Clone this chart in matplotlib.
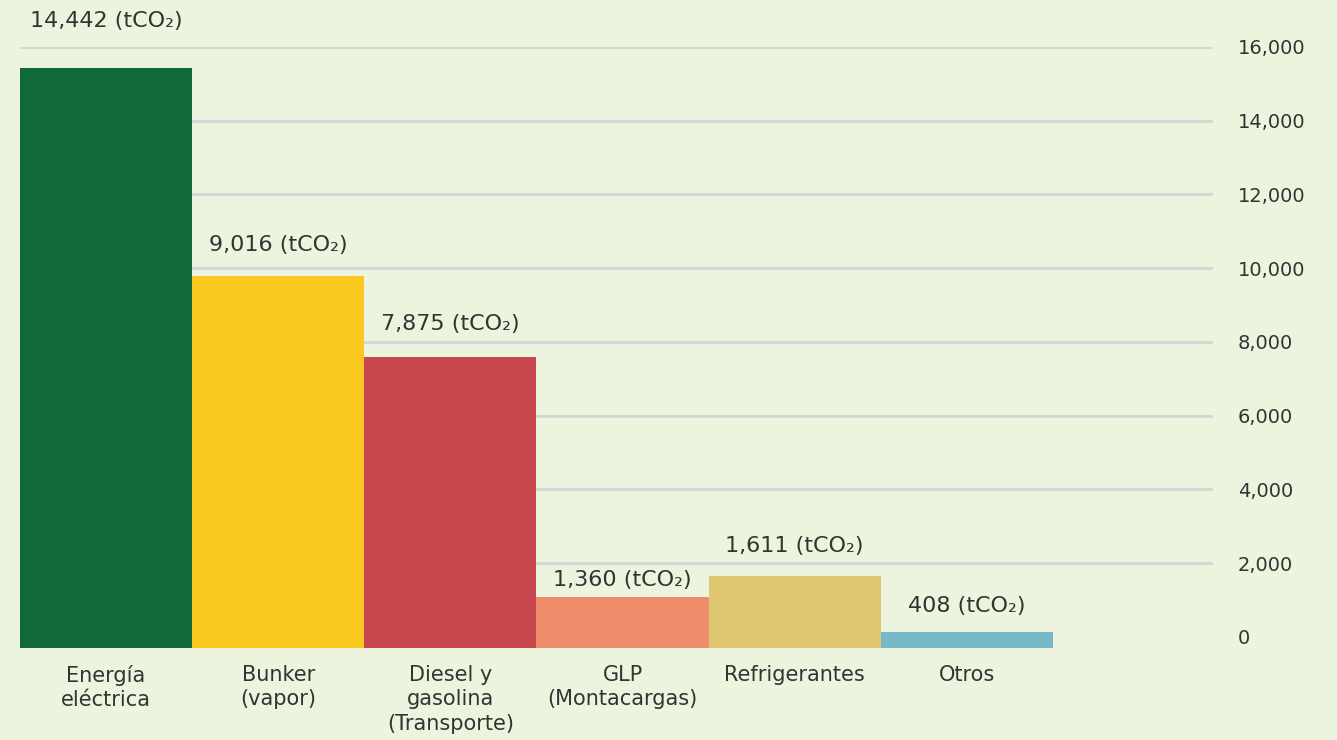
import matplotlib
matplotlib.use("Agg")
import matplotlib.pyplot as plt

categories = ["Energía\neléctrica", "Bunker\n(vapor)", "Diesel y\ngasolina\n(Transporte)",
              "GLP\n(Montacargas)", "Refrigerantes", "Otros"]
emissions = [14442, 9016, 7875, 1360, 1611, 408]          # value shown in labels (tCO2)
bar_tops = [15440, 9790, 7580, 1090, 1660, 140]          # bar height as drawn on the axis
colors = ["#11693A", "#F9C81E", "#C8474F", "#EE8E6A", "#DEC76E", "#76B8C8"]
yticks = [0, 2000, 4000, 6000, 8000, 10000, 12000, 14000, 16000]

label_pad = [47, 31, 33, 17, 30, 26]   # pixels between bar top and label centre
base = -300                            # bars start slightly under the zero line
text_color = "#333333"
bg = "#ECF4DD"

plt.rcParams['font.family'] = ['DejaVu Sans']

fig = plt.figure(figsize=(13.37, 7.40), dpi=100, facecolor=bg)
ax = fig.add_axes([20 / 1337, 1 - 648 / 740, (1213 - 20) / 1337, (648 - 47) / 740])
ax.set_facecolor(bg)

x = list(range(len(categories)))
heights = [t - base for t in bar_tops]
ax.bar(x, heights, bottom=base, width=1.0, color=colors, zorder=3)

for i, (top, val) in enumerate(zip(bar_tops, emissions)):
    ax.annotate(f"{val:,} (tCO₂)", (i, top), xytext=(0, label_pad[i] * 0.72),
                textcoords="offset points", ha="center", va="center",
                fontsize=16, color=text_color)

ax.set_xlim(-0.5, 6.43)
ax.set_ylim(base, 16000)
ax.set_yticks(yticks)
ax.set_yticklabels([f"{t:,}" for t in yticks])
ax.yaxis.tick_right()
ax.tick_params(axis="y", length=0, pad=18, labelsize=14, labelcolor=text_color)
for lab in ax.get_yticklabels():
    lab.set_horizontalalignment("left")

ax.set_xticks(x)
ax.set_xticklabels(categories, fontsize=15, color=text_color, linespacing=1.3, va="top")
ax.tick_params(axis="x", length=0, pad=12)

ax.grid(axis="y", color="#D5D5D5", linewidth=2, zorder=0)
ax.yaxis.get_gridlines()[0].set_visible(False)
for s in ax.spines.values():
    s.set_visible(False)

fig.savefig("out.png", dpi=100, facecolor=bg)
